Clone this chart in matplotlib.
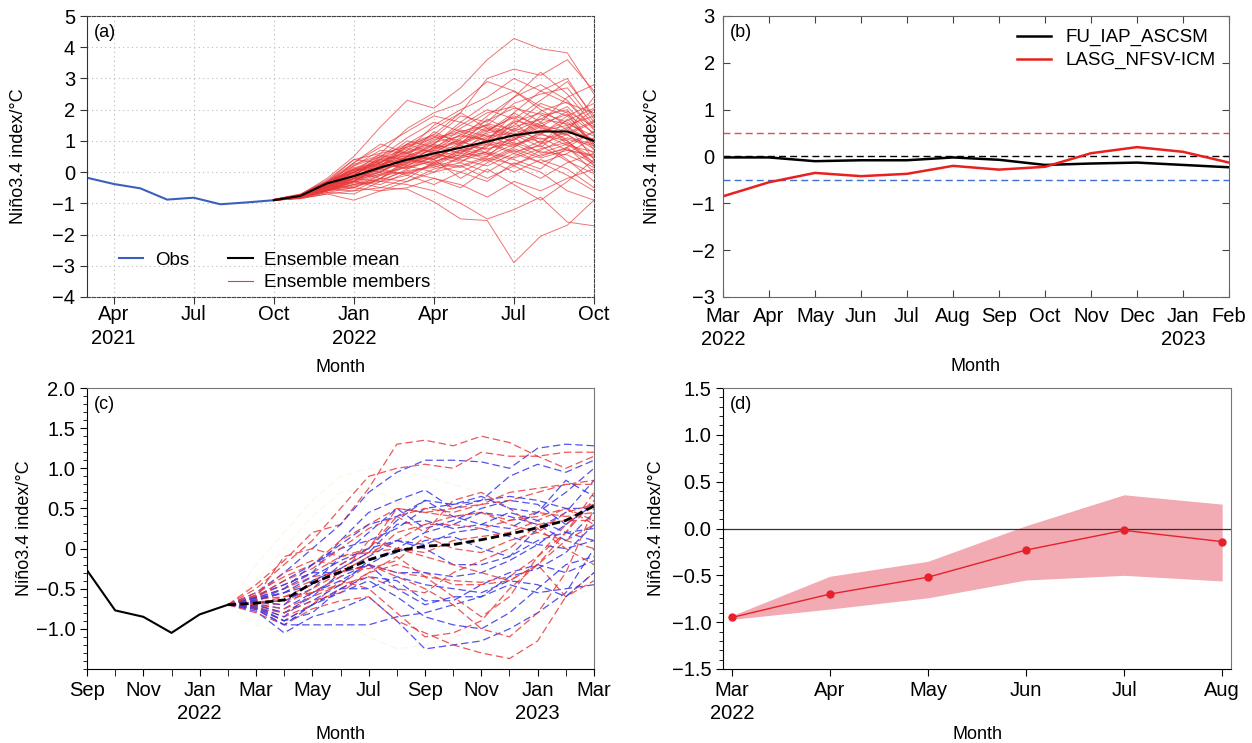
import matplotlib
matplotlib.use("Agg")
import matplotlib.pyplot as plt
import numpy as np
from matplotlib.lines import Line2D
from matplotlib.ticker import MultipleLocator

plt.rcParams['font.family'] = ['Liberation Sans', 'DejaVu Sans']
plt.rcParams['font.size'] = 13
plt.rcParams['axes.unicode_minus'] = True

# ---------------- Panel (a) data ----------------
a_obs_months = ['Mar', 'Apr', 'May', 'Jun', 'Jul', 'Aug', 'Sep', 'Oct']   # 2021
a_obs = [-0.18, -0.38, -0.52, -0.88, -0.82, -1.03, -0.97, -0.90]
a_fc_months = ['Oct', 'Nov', 'Dec', 'Jan', 'Feb', 'Mar', 'Apr', 'May', 'Jun', 'Jul', 'Aug', 'Sep', 'Oct']
a_mean = [-0.90, -0.76, -0.36, -0.13, 0.15, 0.40, 0.60, 0.78, 0.98, 1.18, 1.30, 1.30, 1.00]
a_members = [
    [-0.88, -0.72, -0.20, 0.50, 1.45, 2.30, 2.05, 2.70, 3.60, 4.28, 3.95, 3.82, 2.50],
    [-0.90, -0.85, -0.70, -0.60, -0.50, -0.55, -0.95, -1.50, -1.55, -2.90, -2.05, -1.70, -0.90],
    [-0.91, -0.80, -0.60, -0.40, -0.30, -0.40, -0.60, -1.00, -1.50, -1.20, -0.80, -1.60, -1.72],
    [-0.87, -0.70, -0.30, 0.10, 0.50, 0.90, 1.40, 1.90, 3.00, 3.30, 3.10, 3.60, 2.60],
    [-0.89, -0.75, -0.50, 0.00, 0.30, 0.70, 1.10, 1.30, 1.50, 2.20, 2.50, 2.70, 1.60],
    [-0.90, -0.80, -0.55, -0.30, 0.20, 0.50, 0.40, 0.90, 1.20, 1.00, 1.80, 2.00, 0.80],
    [-0.88, -0.74, -0.40, 0.30, 0.80, 1.30, 1.80, 1.60, 2.20, 2.60, 2.00, 1.50, 0.40],
    [-0.90, -0.82, -0.60, -0.50, -0.20, -0.30, 0.10, 0.30, 0.00, 0.50, 0.90, 1.20, 0.60],
    [-0.90, -0.78, -0.50, -0.20, 0.00, 0.40, 0.30, 0.70, 0.90, 1.40, 1.20, 1.80, 2.20],
    [-0.89, -0.76, -0.35, -0.10, 0.40, 0.30, 0.80, 0.60, 1.30, 1.80, 1.50, 1.00, 0.30],
    [-0.90, -0.84, -0.70, -0.90, -0.60, -0.50, -0.20, -0.40, -0.80, -0.30, -0.60, -0.20, 0.10],
    [-0.88, -0.73, -0.30, 0.00, 0.60, 0.80, 1.20, 1.00, 0.70, 1.10, 0.60, 0.90, 1.30],
    [-0.91, -0.80, -0.60, -0.30, -0.40, 0.00, 0.20, 0.60, 1.00, 0.80, 1.30, 1.50, 1.80],
    [-0.90, -0.77, -0.45, -0.50, -0.10, 0.20, 0.60, 0.40, 0.20, 0.60, 1.00, 0.40, -0.30],
    [-0.89, -0.75, -0.40, 0.10, 0.20, 0.60, 0.90, 1.50, 2.00, 1.70, 2.30, 2.90, 1.80],
    [-0.90, -0.80, -0.50, -0.20, 0.30, 0.10, 0.50, 0.80, 0.60, 0.20, 0.70, 1.10, 0.90],
    [-0.88, -0.72, -0.25, 0.40, 0.30, 0.80, 1.10, 1.80, 1.60, 2.40, 2.80, 2.30, 1.40],
    [-0.90, -0.83, -0.65, -0.70, -0.30, -0.10, -0.40, 0.00, -0.30, 0.30, 0.00, -0.60, -0.90],
    [-0.89, -0.78, -0.50, -0.10, 0.10, 0.50, 0.70, 1.20, 1.50, 1.20, 0.80, 1.40, 2.00],
    [-0.90, -0.79, -0.55, -0.40, -0.20, 0.20, 0.00, 0.50, 0.80, 1.60, 1.90, 1.60, 1.00],
    [-0.88, -0.74, -0.30, 0.20, 0.70, 0.60, 1.00, 1.40, 1.90, 2.10, 1.60, 2.40, 2.80],
    [-0.90, -0.81, -0.60, -0.30, -0.50, -0.20, 0.30, 0.20, 0.50, 0.90, 0.50, 0.80, 0.00],
    [-0.89, -0.76, -0.40, 0.00, 0.40, 1.00, 0.80, 1.20, 1.00, 1.50, 2.20, 1.90, 0.70],
    [-0.91, -0.82, -0.55, -0.60, -0.20, 0.30, 0.50, 0.30, 0.90, 0.60, 0.30, 0.60, 1.10],
    [-0.90, -0.77, -0.45, -0.10, 0.50, 0.40, 0.90, 1.60, 1.30, 1.90, 1.40, 1.20, 1.60],
    [-0.88, -0.75, -0.35, 0.10, 0.00, 0.50, 1.30, 0.90, 1.70, 1.30, 1.70, 2.10, 1.20],
    [-0.90, -0.80, -0.60, -0.40, -0.10, 0.00, -0.20, -0.50, 0.10, -0.40, -0.90, -0.30, 0.40],
    [-0.89, -0.78, -0.45, -0.20, 0.20, 0.70, 1.50, 2.00, 2.40, 3.00, 2.60, 2.20, 1.90],
    [-0.90, -0.79, -0.50, 0.00, -0.20, 0.40, 0.20, 0.00, 0.40, 0.00, 0.40, 0.10, -0.50],
    [-0.88, -0.73, -0.30, 0.30, 0.90, 0.60, 0.40, 0.90, 1.40, 0.90, 1.10, 0.70, 0.50],
    [-0.90, -0.82, -0.60, -0.20, 0.10, -0.10, 0.30, 0.70, 0.40, 0.80, 1.20, 1.00, 0.20],
    [-0.89, -0.77, -0.40, -0.30, 0.20, 0.90, 0.60, 1.10, 1.80, 2.40, 3.20, 2.50, 1.50],
    [-0.90, -0.80, -0.55, -0.10, 0.40, 0.20, 0.70, 0.50, 1.10, 1.60, 0.90, 1.70, 0.90],
    [-0.88, -0.76, -0.35, 0.00, 0.30, 0.90, 1.20, 1.90, 1.40, 1.10, 1.50, 1.30, 2.40],
    [-0.91, -0.83, -0.65, -0.50, -0.60, -0.30, 0.00, 0.20, -0.20, 0.20, -0.20, 0.30, 0.60],
    [-0.90, -0.78, -0.45, 0.20, 0.50, 1.10, 1.60, 1.30, 1.00, 1.90, 2.60, 3.00, 1.70],
    [-0.89, -0.75, -0.40, -0.20, 0.10, 0.30, 0.80, 1.00, 0.60, 0.40, 0.10, 0.80, 1.30],
    [-0.90, -0.80, -0.50, -0.30, 0.00, 0.50, 0.90, 0.60, 0.50, 1.20, 1.60, 0.90, 0.30],
    [-0.88, -0.74, -0.30, 0.40, 0.60, 1.40, 1.90, 2.20, 2.90, 2.60, 2.10, 1.80, 0.90],
    [-0.90, -0.81, -0.60, -0.20, -0.30, 0.10, 0.40, -0.20, 0.30, 0.70, 0.30, -0.10, -0.60],
    [-0.89, -0.77, -0.42, -0.05, 0.25, 0.55, 0.75, 0.95, 1.25, 1.45, 1.70, 1.55, 1.15],
    [-0.90, -0.79, -0.48, -0.25, 0.05, 0.35, 0.55, 0.45, 0.85, 1.05, 1.35, 1.20, 0.75],
    [-0.88, -0.75, -0.33, 0.05, 0.35, 0.65, 0.95, 1.15, 1.05, 1.65, 1.45, 1.95, 1.45],
    [-0.90, -0.78, -0.46, -0.15, 0.15, 0.25, 0.45, 0.85, 0.75, 0.95, 0.65, 0.55, 0.15],
    [-0.89, -0.76, -0.38, -0.02, 0.45, 0.75, 0.65, 1.05, 1.55, 1.35, 1.95, 2.25, 1.35],
    [-0.91, -0.81, -0.56, -0.35, -0.05, 0.15, 0.35, 0.55, 0.35, 0.75, 0.45, 0.70, 0.55],
    [-0.88, -0.74, -0.36, 0.15, 0.25, 0.45, 0.85, 0.75, 1.15, 1.25, 0.95, 1.45, 0.95],
    [-0.90, -0.79, -0.52, -0.28, 0.12, 0.45, 0.25, 0.65, 0.95, 0.65, 0.85, 0.35, -0.05],
    [-0.89, -0.77, -0.44, -0.08, 0.32, 0.62, 1.05, 1.25, 1.65, 2.05, 1.85, 1.35, 1.05],
    [-0.90, -0.80, -0.54, -0.22, -0.08, 0.28, 0.62, 0.35, 0.65, 1.35, 1.05, 1.25, 1.65],
    [-0.88, -0.73, -0.32, 0.25, 0.55, 0.35, 0.75, 1.35, 1.15, 0.85, 1.25, 1.65, 2.05],
    [-0.90, -0.82, -0.58, -0.45, -0.25, 0.05, 0.15, 0.45, 0.65, 0.45, 0.75, 0.95, 0.45],
    [-0.89, -0.76, -0.41, 0.05, 0.15, 0.85, 1.15, 0.85, 1.35, 1.75, 1.25, 0.85, 0.65],
    [-0.90, -0.78, -0.49, -0.12, 0.22, 0.15, 0.52, 0.95, 1.45, 1.15, 1.55, 1.85, 1.25],
    [-0.88, -0.75, -0.37, 0.08, 0.42, 0.52, 0.42, 0.72, 0.55, 1.05, 1.45, 1.05, 0.85],
    [-0.90, -0.81, -0.57, -0.32, 0.02, -0.05, 0.25, 0.15, 0.45, 0.25, 0.55, 0.75, 0.25],
]
a_tick_labels = ['Apr\n2021', 'Jul', 'Oct', 'Jan\n2022', 'Apr', 'Jul', 'Oct']

# ---------------- Panel (b) data ----------------
b_months = ['Mar\n2022', 'Apr', 'May', 'Jun', 'Jul', 'Aug', 'Sep', 'Oct', 'Nov', 'Dec', 'Jan\n2023', 'Feb']
b_fu = [-0.02, -0.02, -0.10, -0.08, -0.08, -0.02, -0.07, -0.18, -0.15, -0.13, -0.18, -0.23]
b_lasg = [-0.85, -0.55, -0.35, -0.42, -0.37, -0.20, -0.28, -0.22, 0.07, 0.20, 0.10, -0.13]
b_thresholds = [0.5, 0.0, -0.5]

# ---------------- Panel (c) data ----------------
c_obs = [-0.27, -0.77, -0.85, -1.05, -0.82, -0.70]           # Sep 2021 - Feb 2022
c_mean = [-0.70, -0.68, -0.64, -0.43, -0.29, -0.14, -0.03, 0.03, 0.05, 0.11, 0.18, 0.26, 0.35, 0.53]  # Feb 2022 - Mar 2023
c_red = [
    [-0.70, -0.45, -0.15, 0.20, 0.30, 0.75, 1.30, 1.35, 1.28, 1.40, 1.32, 1.15, 1.00, 1.15],
    [-0.70, -0.50, -0.20, 0.10, 0.50, 0.90, 1.00, 1.05, 1.00, 1.20, 1.15, 1.15, 1.20, 1.20],
    [-0.70, -0.55, -0.35, -0.20, 0.10, 0.30, 0.50, 0.45, 0.50, 0.55, 0.60, 0.70, 0.80, 0.85],
    [-0.70, -0.60, -0.45, -0.30, -0.10, 0.00, 0.50, 0.45, 0.40, 0.45, 0.35, 0.40, 0.50, 0.35],
    [-0.70, -0.65, -0.55, -0.40, -0.25, -0.05, 0.10, 0.30, 0.40, 0.45, 0.30, 0.20, 0.10, 0.00],
    [-0.70, -0.75, -0.90, -0.70, -0.50, -0.30, -0.20, -0.30, -0.45, -0.45, -0.40, -0.20, -0.60, -0.40],
    [-0.70, -0.80, -0.95, -0.75, -0.65, -0.60, -0.90, -1.05, -1.20, -1.30, -1.37, -1.15, -0.60, -0.30],
    [-0.70, -0.72, -0.85, -0.70, -0.40, -0.50, -0.80, -1.10, -1.05, -0.90, -0.50, -0.20, 0.10, 0.30],
    [-0.70, -0.62, -0.50, -0.35, -0.30, -0.20, -0.35, -0.50, -0.70, -1.00, -1.10, -0.80, -0.30, 0.50],
    [-0.70, -0.60, -0.10, 0.00, -0.10, -0.05, 0.00, -0.10, -0.20, -0.30, -0.40, -0.20, 0.20, 0.60],
    [-0.70, -0.68, -0.70, -0.50, -0.30, -0.10, 0.20, 0.30, 0.30, 0.25, 0.35, 0.45, 0.40, 0.45],
    [-0.70, -0.63, -0.60, -0.55, -0.45, -0.20, -0.30, -0.35, -0.40, -0.42, -0.35, -0.10, 0.20, 0.70],
    [-0.70, -0.58, -0.30, -0.15, -0.20, 0.00, 0.40, 0.50, 0.45, 0.55, 0.70, 0.75, 0.80, 0.80],
    [-0.70, -0.70, -0.75, -0.60, -0.45, -0.35, -0.50, -0.55, -0.30, -0.15, 0.00, 0.30, 0.35, 0.35],
    [-0.70, -0.66, -0.65, -0.55, -0.35, 0.10, 0.00, -0.05, 0.10, 0.15, 0.20, 0.35, 0.50, 0.30],
    [-0.70, -0.74, -0.80, -0.65, -0.55, -0.30, -0.10, -0.35, -0.60, -0.85, -0.60, -0.10, 0.30, 0.60],
    [-0.70, -0.60, -0.40, -0.25, 0.00, 0.25, 0.40, 0.20, 0.60, 0.70, 0.50, 0.25, 0.00, -0.20],
    [-0.70, -0.69, -0.60, -0.45, -0.25, -0.25, -0.15, 0.15, 0.00, -0.05, 0.10, 0.20, 0.45, 0.55],
]
c_blue = [
    [-0.70, -0.55, -0.30, 0.00, 0.30, 0.70, 0.95, 1.10, 1.10, 1.08, 1.00, 1.25, 1.30, 1.28],
    [-0.70, -0.65, -0.50, -0.30, 0.10, 0.45, 0.60, 0.73, 0.50, 0.60, 0.90, 1.05, 0.95, 1.10],
    [-0.70, -0.75, -0.95, -0.95, -0.95, -0.95, -0.85, -0.80, -0.70, -0.60, -0.45, -0.55, -0.50, -0.45],
    [-0.70, -0.78, -1.05, -0.85, -0.75, -0.60, -0.90, -1.25, -1.20, -1.15, -1.00, -0.80, -0.55, 0.00],
    [-0.70, -0.70, -0.80, -0.60, -0.30, -0.10, 0.10, 0.00, -0.20, -0.20, -0.10, 0.10, 0.20, 0.10],
    [-0.70, -0.72, -0.90, -0.70, -0.50, -0.35, -0.40, -0.65, -0.65, -0.45, -0.30, -0.20, -0.30, -0.15],
    [-0.70, -0.60, -0.40, -0.20, 0.00, 0.10, 0.25, 0.50, 0.55, 0.60, 0.65, 0.60, 0.50, 0.50],
    [-0.70, -0.67, -0.65, -0.50, -0.20, 0.00, 0.35, 0.60, 0.40, 0.30, 0.25, 0.45, 0.70, 1.00],
    [-0.70, -0.73, -0.85, -0.55, -0.35, -0.20, -0.30, -0.30, -0.35, -0.30, -0.15, 0.05, 0.30, 0.55],
    [-0.70, -0.62, -0.55, -0.35, -0.15, 0.00, 0.10, 0.05, 0.20, 0.25, 0.15, 0.05, 0.00, 0.10],
    [-0.70, -0.69, -0.75, -0.55, -0.40, -0.20, 0.00, 0.20, 0.30, 0.45, 0.40, 0.30, 0.10, 0.45],
    [-0.70, -0.58, -0.45, -0.30, -0.30, -0.20, -0.50, -0.70, -0.60, -0.60, -0.35, -0.25, -0.05, 0.30],
    [-0.70, -0.76, -0.95, -0.70, -0.55, -0.40, -0.60, -0.85, -0.95, -1.00, -0.80, -0.50, -0.20, -0.10],
    [-0.70, -0.64, -0.55, -0.45, -0.10, 0.20, 0.50, 0.25, 0.35, 0.50, 0.60, 0.55, 0.30, 0.55],
    [-0.70, -0.71, -0.80, -0.65, -0.45, -0.15, -0.05, 0.10, 0.15, 0.00, -0.10, 0.25, 0.45, 0.85],
    [-0.70, -0.66, -0.70, -0.40, -0.25, -0.05, 0.30, 0.35, 0.25, 0.30, 0.45, 0.35, 0.20, 0.25],
    [-0.70, -0.74, -0.90, -0.80, -0.50, -0.50, -0.35, -0.45, -0.50, -0.55, -0.40, -0.45, -0.60, -0.30],
    [-0.70, -0.61, -0.50, -0.20, 0.05, 0.30, 0.40, 0.60, 0.55, 0.65, 0.50, 0.45, 0.85, 0.65],
]
c_faint = [
    [-0.70, -0.20, 0.20, 0.60, 0.90, 1.00, 0.95, 0.90, 0.80, 0.70, 0.60, 0.50, 0.55, 0.60],
    [-0.70, -0.95, -1.05, -1.00, -0.90, -1.10, -1.25, -1.20, -1.10, -1.00, -0.90, -0.80, -0.60, -0.50],
    [-0.70, -0.40, 0.00, 0.40, 0.70, 0.75, 0.60, 0.50, 0.40, 0.35, 0.30, 0.30, 0.40, 0.45],
]
c_tick_labels = ['Sep', 'Nov', 'Jan\n2022', 'Mar', 'May', 'Jul', 'Sep', 'Nov', 'Jan\n2023', 'Mar']

# ---------------- Panel (d) data ----------------
d_months = ['Mar\n2022', 'Apr', 'May', 'Jun', 'Jul', 'Aug']
d_mean = [-0.95, -0.70, -0.52, -0.23, -0.02, -0.14]
d_upper = [-0.93, -0.51, -0.35, 0.03, 0.36, 0.26]
d_lower = [-0.97, -0.86, -0.74, -0.55, -0.50, -0.56]

# ================= Figure =================
W, H = 1252, 743
fig = plt.figure(figsize=(W / 100, H / 100), dpi=100)

def box(l, t, r, b):
    return [l / W, 1 - b / H, (r - l) / W, (b - t) / H]

ax_a = fig.add_axes(box(87, 16, 594, 297))
ax_b = fig.add_axes(box(723, 16, 1229, 297))
ax_c = fig.add_axes(box(87, 388, 594, 669))
ax_d = fig.add_axes(box(723, 388, 1231, 669))

ylab = 'Niño3.4 index/°C'
TICK_FS = 14.5

def minus(v, fmt):
    s = fmt.format(abs(v))
    return ('\u2212' + s) if v < 0 else s

# ---- (a) ----
ax = ax_a
obs_x = np.arange(len(a_obs))
fc_x = np.arange(len(a_obs) - 1, len(a_obs) - 1 + len(a_mean))
for m in a_members:
    ax.plot(fc_x, m, color='#e8393a', lw=0.7, alpha=0.7)
ax.plot(obs_x, a_obs, color='#3a5fbf', lw=1.5)
ax.plot(fc_x, a_mean, color='black', lw=1.5)
ax.set_xlim(0, 19)
ax.set_ylim(-4, 5)
ax.set_xticks([1, 4, 7, 10, 13, 16, 19])
ax.set_xticklabels(a_tick_labels)
ax.set_yticks(range(-4, 6))
ax.set_yticklabels([minus(v, '{:d}') for v in range(-4, 6)])
ax.grid(True, color='#bbbbbb', ls=(0, (1, 3)), lw=0.8)
ax.tick_params(direction='out', length=5, color='#333333')
ax.tick_params(axis='x', pad=1)
for s in ['top', 'right', 'bottom']:
    ax.spines[s].set_linestyle((0, (3, 1.5)))
    ax.spines[s].set_color('#444444')
ax.spines['left'].set_color('#333333')
ax.set_ylabel(ylab, fontsize=13, labelpad=18)
ax.set_xlabel('Month', fontsize=13, labelpad=8)
ax.text(0.013, 0.97, '(a)', transform=ax.transAxes, va='top', ha='left', fontsize=13)
h_obs = Line2D([], [], color='#3a5fbf', lw=1.5)
h_blank = Line2D([], [], color='none')
h_mean = Line2D([], [], color='black', lw=1.5)
h_mem = Line2D([], [], color='#e8393a', lw=0.8)
ax.legend([h_obs, h_blank, h_mean, h_mem], ['Obs', '', 'Ensemble mean', 'Ensemble members'],
          ncol=2, loc='lower left', bbox_to_anchor=(0.03, -0.04), frameon=False, fontsize=13.5,
          handlelength=1.3, handletextpad=0.6, columnspacing=2.1, labelspacing=0.3)

# ---- (b) ----
ax = ax_b
bx = np.arange(len(b_months))
ax.axhline(b_thresholds[0], color='#e84a4a', ls=(0, (5, 3)), lw=1.0)
ax.axhline(b_thresholds[1], color='black', ls=(0, (5, 3)), lw=1.0)
ax.axhline(b_thresholds[2], color='#4070d0', ls=(0, (5, 3)), lw=1.0)
ax.plot(bx, b_fu, color='black', lw=1.8, label='FU_IAP_ASCSM')
ax.plot(bx, b_lasg, color='#e8201e', lw=1.8, label='LASG_NFSV-ICM')
ax.set_xlim(0, len(b_months) - 1)
ax.set_ylim(-3, 3)
ax.set_xticks(bx)
ax.set_xticklabels(b_months)
ax.set_yticks(range(-3, 4))
ax.set_yticklabels([minus(v, '{:d}') for v in range(-3, 4)])
ax.tick_params(direction='in', length=5, top=True, right=True, color='#444444')
ax.tick_params(axis='x', pad=7)
ax.tick_params(axis='y', pad=6)
for s in ax.spines.values():
    s.set_color('#666666')
ax.set_ylabel(ylab, fontsize=13, labelpad=22)
ax.set_xlabel('Month', fontsize=13, labelpad=6)
ax.text(0.013, 0.97, '(b)', transform=ax.transAxes, va='top', ha='left', fontsize=13)
ax.legend(loc='upper right', frameon=False, fontsize=13.5, handlelength=1.8,
          borderaxespad=0.3, labelspacing=0.3)

# ---- (c) ----
ax = ax_c
cx_obs = np.arange(len(c_obs))
cx_fc = np.arange(len(c_obs) - 1, len(c_obs) - 1 + len(c_mean))
for m in c_faint:
    ax.plot(cx_fc, m, color='#fcf8e8', lw=1.0, ls=(0, (5, 3)))
for r, b in zip(c_red, c_blue):
    ax.plot(cx_fc, r, color='#e83a3a', lw=0.9, ls=(0, (6, 3)), alpha=0.85)
    ax.plot(cx_fc, b, color='#3535e8', lw=0.9, ls=(0, (6, 3)), alpha=0.85)
ax.plot(cx_obs, c_obs, color='black', lw=1.5)
ax.plot(cx_fc, c_mean, color='black', lw=2.0, ls=(0, (3, 1.5)))
ax.set_xlim(0, 18)
ax.set_ylim(-1.5, 2.0)
ax.set_xticks(np.arange(0, 19, 2))
ax.set_xticklabels(c_tick_labels)
ax.set_xticks(np.arange(0, 19), minor=True)
ax.set_yticks([-1.0, -0.5, 0, 0.5, 1.0, 1.5, 2.0])
ax.set_yticklabels(['\u22121.0', '\u22120.5', '0', '0.5', '1.0', '1.5', '2.0'])
ax.yaxis.set_minor_locator(MultipleLocator(0.1))
ax.tick_params(which='major', direction='out', length=5)
ax.tick_params(which='minor', direction='out', length=3)
ax.tick_params(axis='x', which='minor', length=5)
for s in ['top', 'right']:
    ax.spines[s].set_color('#777777')
ax.set_ylabel(ylab, fontsize=13, labelpad=2)
ax.set_xlabel('Month', fontsize=13, labelpad=2)
ax.text(0.013, 0.97, '(c)', transform=ax.transAxes, va='top', ha='left', fontsize=13)

# ---- (d) ----
ax = ax_d
dx = np.arange(len(d_months))
ax.fill_between(dx, d_lower, d_upper, color='#f2aab3', lw=0)
ax.axhline(0, color='#333333', lw=0.9)
ax.plot(dx, d_mean, color='#e8202a', lw=1.0, marker='o', ms=5)
ax.set_xlim(-0.09, 5.09)
ax.set_ylim(-1.5, 1.5)
ax.set_xticks(dx)
ax.set_xticklabels(d_months)
ax.set_yticks([-1.5, -1.0, -0.5, 0.0, 0.5, 1.0, 1.5])
ax.set_yticklabels(['\u22121.5', '\u22121.0', '\u22120.5', '0.0', '0.5', '1.0', '1.5'])
ax.yaxis.set_minor_locator(MultipleLocator(0.1))
ax.tick_params(which='major', direction='out', length=5)
ax.tick_params(which='minor', direction='out', length=3)
for s in ['top', 'right']:
    ax.spines[s].set_color('#777777')
ax.set_ylabel(ylab, fontsize=13, labelpad=5)
ax.set_xlabel('Month', fontsize=13, labelpad=2)
ax.text(0.013, 0.97, '(d)', transform=ax.transAxes, va='top', ha='left', fontsize=13)

for a in (ax_a, ax_b, ax_c, ax_d):
    for lbl in a.get_xticklabels() + a.get_yticklabels():
        lbl.set_fontsize(TICK_FS)
        lbl.set_linespacing(1.3)

fig.savefig('out.png', dpi=100)
